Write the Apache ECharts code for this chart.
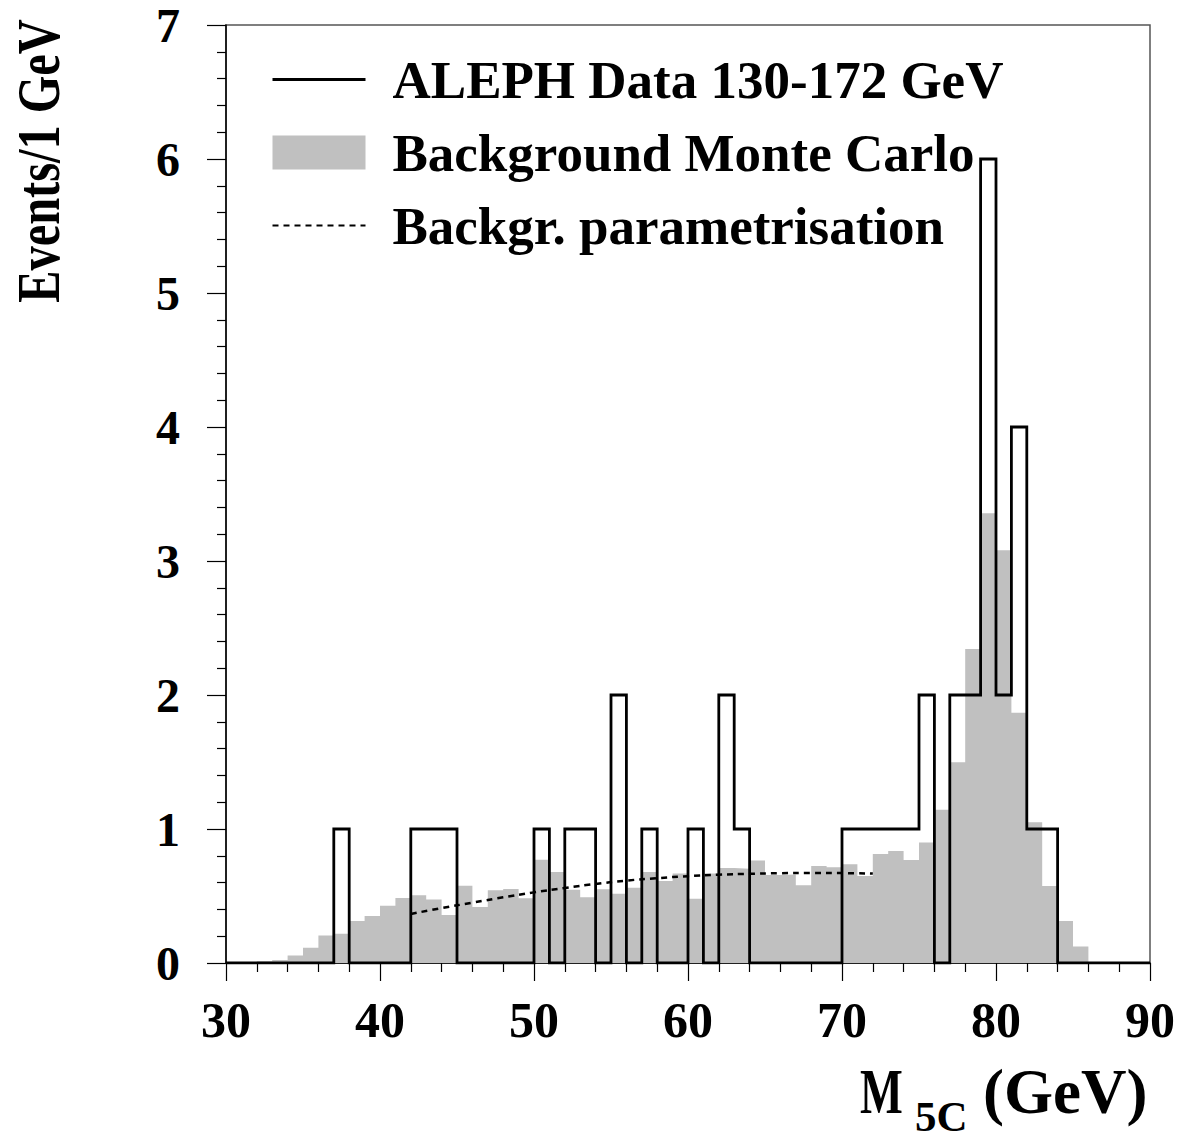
<!DOCTYPE html>
<html>
<head>
<meta charset="utf-8">
<script src="https://cdn.jsdelivr.net/npm/echarts@6/dist/echarts.min.js"></script>
<style>
html,body{margin:0;padding:0;background:#fff;}
#chart{width:1185px;height:1138px;}
</style>
</head>
<body>
<div id="chart"></div>
<script>
// ---- data ----
const binStart = 30;           // first bin low edge (GeV), bins are 1 GeV wide
const mcValues = [             // Background Monte Carlo, bins 30..85
  0, 0, 0.013, 0.022, 0.056, 0.113, 0.206, 0.219, 0.313, 0.351,
  0.428, 0.485, 0.505, 0.473, 0.358, 0.577, 0.418, 0.542, 0.552, 0.483,
  0.771, 0.679, 0.547, 0.490, 0.550, 0.517, 0.562, 0.679, 0.612, 0.667,
  0.480, 0.667, 0.709, 0.704, 0.764, 0.657, 0.660, 0.580, 0.724, 0.714,
  0.737, 0.649, 0.813, 0.836, 0.769, 0.900, 1.144, 1.498, 2.343, 3.356,
  3.080, 1.868, 1.050, 0.575, 0.313, 0.124
];
const dataValues = [           // ALEPH data, bins 30..89
  0, 0, 0, 0, 0, 0, 0, 1, 0, 0,
  0, 0, 1, 1, 1, 0, 0, 0, 0, 0,
  1, 0, 1, 1, 0, 2, 0, 1, 0, 0,
  1, 0, 2, 1, 0, 0, 0, 0, 0, 0,
  1, 1, 1, 1, 1, 2, 0, 2, 2, 6,
  2, 4, 1, 1, 0, 0, 0, 0, 0, 0
];
const paramX = [42, 44, 46, 48, 50, 52, 54, 56, 58, 60, 62, 64, 66, 68, 70, 72];
const paramY = [0.366, 0.410, 0.450, 0.490, 0.527, 0.560, 0.590, 0.615, 0.633, 0.648, 0.659, 0.666, 0.670, 0.672, 0.671, 0.667];
const legendNames = ['ALEPH Data 130-172 GeV', 'Background Monte Carlo', 'Backgr. parametrisation'];

// ---- helpers ----
function histPoints(start, vals) {
  const pts = [[start, 0]];
  vals.forEach((v, i) => {
    pts.push([start + i, v]);
    pts.push([start + i + 1, v]);
  });
  pts.push([start + vals.length, 0]);
  return pts;
}

const FONT = '"Liberation Serif", "Times New Roman", serif';
const chart = echarts.init(document.getElementById('chart'), null, {renderer: 'svg'});
const hiddenSymbol = {opacity: 0, color: 'transparent', borderWidth: 0};

chart.setOption({
  animation: false,
  backgroundColor: '#fff',
  grid: {left: 226, right: 35, top: 25, bottom: 175, show: true,
         borderColor: '#555', borderWidth: 1.5, backgroundColor: 'transparent'},
  xAxis: {
    type: 'value', min: 30, max: 90, interval: 10,
    axisLine: {lineStyle: {color: '#000', width: 1.5}},
    axisTick: {length: 18, lineStyle: {color: '#000', width: 1.2}},
    minorTick: {show: true, splitNumber: 5, length: 9, lineStyle: {color: '#000', width: 1.2}},
    splitLine: {show: false},
    axisLabel: {fontFamily: FONT, fontWeight: 'bold', fontSize: 50, color: '#000', margin: 32}
  },
  yAxis: {
    type: 'value', min: 0, max: 7, interval: 1,
    axisLine: {show: true, lineStyle: {color: '#000', width: 1.5}},
    axisTick: {show: true, length: 19, lineStyle: {color: '#000', width: 1.2}},
    minorTick: {show: true, splitNumber: 5, length: 9, lineStyle: {color: '#000', width: 1.2}},
    splitLine: {show: false},
    axisLabel: {fontFamily: FONT, fontWeight: 'bold', fontSize: 48, color: '#000', margin: 46}
  },
  legend: {
    orient: 'vertical', left: 271, top: 53, padding: 0,
    itemWidth: 93, itemHeight: 34, itemGap: 20,
    selectedMode: false,
    textStyle: {fontFamily: FONT, fontWeight: 'bold', fontSize: 53, color: '#000',
                lineHeight: 34, padding: [0, 0, 0, 22]},
    data: [
      {name: legendNames[0], itemStyle: hiddenSymbol, lineStyle: {width: 3, color: '#000'}},
      {name: legendNames[1], icon: 'rect'},
      {name: legendNames[2], itemStyle: hiddenSymbol, lineStyle: {width: 2.2, color: '#000', type: [6, 5]}}
    ]
  },
  series: [
    {
      name: legendNames[1], type: 'line', data: histPoints(binStart, mcValues),
      symbol: 'none', color: '#c0c0c0',
      itemStyle: {color: '#c0c0c0'},
      lineStyle: {width: 0, color: '#c0c0c0'},
      areaStyle: {color: '#c0c0c0', opacity: 1},
      silent: true
    },
    {
      name: legendNames[2], type: 'line',
      data: paramX.map((x, i) => [x, paramY[i]]),
      smooth: true, symbol: 'none', color: '#000',
      lineStyle: {color: '#000', width: 2.5, type: [6, 5]},
      silent: true
    },
    {
      name: legendNames[0], type: 'line', data: histPoints(binStart, dataValues),
      symbol: 'none', color: '#000',
      lineStyle: {color: '#000', width: 2.8, join: 'miter'},
      silent: true
    }
  ],
  graphic: [
    {type: 'text', x: 38, y: 161, rotation: Math.PI / 2, scaleX: 0.78,
     style: {text: 'Events/1 GeV', font: 'bold 62px ' + FONT, fill: '#000',
             align: 'center', verticalAlign: 'middle'}},
    {type: 'text', x: 860, y: 1092, scaleX: 0.72,
     style: {text: 'M', font: 'bold 63px ' + FONT, fill: '#000', align: 'left', verticalAlign: 'middle'}},
    {type: 'text', x: 915, y: 1116,
     style: {text: '5C', font: 'bold 43px ' + FONT, fill: '#000', align: 'left', verticalAlign: 'middle'}},
    {type: 'text', x: 983, y: 1092,
     style: {text: '(GeV)', font: 'bold 63px ' + FONT, fill: '#000', align: 'left', verticalAlign: 'middle'}}
  ]
});
</script>
</body>
</html>
